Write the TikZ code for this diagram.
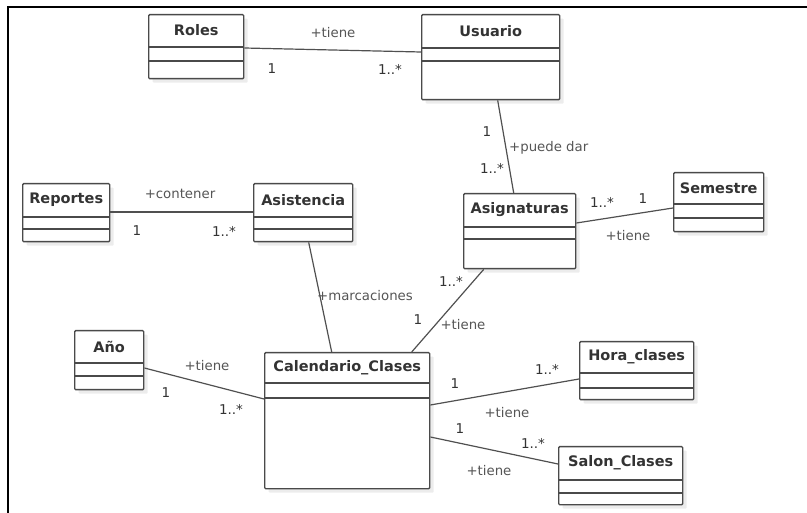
\documentclass[tikz,border=0pt]{standalone}
\usepackage{fontspec}
\setmainfont{DejaVu Sans}
\usetikzlibrary{shadows}
\definecolor{boxline}{HTML}{4A4A4A}
\definecolor{assocline}{HTML}{505050}
\definecolor{titletext}{HTML}{333333}
\definecolor{labeltext}{HTML}{555555}
\tikzset{
	umlclass/.style={draw=boxline, line width=1.4pt, rounded corners=1pt,
		fill=white, anchor=north west, inner sep=0pt,
		drop shadow={fill=gray!30, opacity=0.5, shadow xshift=4pt,
			shadow yshift=-4pt}},
	divider/.style={draw=boxline, line width=1.4pt},
	classname/.style={font=\fontsize{14.5}{16}\selectfont\bfseries,
		text=titletext, inner sep=0pt},
	assoc/.style={draw=assocline, line width=1.2pt},
	rolelabel/.style={font=\fontsize{13.3}{15}\selectfont, text=labeltext,
		inner sep=0pt},
	multlabel/.style={font=\fontsize{13.5}{15}\selectfont, text=titletext,
		inner sep=0pt},
	frameline/.style={draw=black, line width=2pt}
}
\begin{document}
\begin{tikzpicture}[x=1pt, y=-1pt]
	\useasboundingbox (0,0) rectangle (807,513);
	% Rahmen
	\draw[frameline] (807,7.5) -- (7.5,7.5) -- (7.5,513);

	% Klassen: name/titel/x/y/breite/hoehe/trenner1/trenner2
	\foreach \id/\title/\x/\y/\w/\h/\da/\db in {
		roles/Roles/148/14/95/64/33/47,
		usuario/Usuario/421/14/138/85/34/47,
		reportes/Reportes/22/183/87/58/34/46,
		asistencia/Asistencia/253/183/99/58/34/46,
		asignaturas/Asignaturas/463/193/112/75/34/46,
		semestre/Semestre/673/172/90/59/32/46,
		anio/Año/74/330/69/59/33/46,
		calendario/Calendario\_Clases/264/352/165/136/31/46,
		hora/Hora\_clases/579/341/114/58/32/47,
		salon/Salon\_Clases/558/446/124/58/34/47}
	{
		\node[umlclass, minimum width=\w, minimum height=\h] (\id) at (\x,\y) {};
		\pgfmathsetmacro{\ty}{-\da/2}
		\node[classname] (\id-title) at ([yshift=\ty]\id.north) {\title};
		\draw[divider] ([yshift=-\da]\id.north west) -- ([yshift=-\da]\id.north east);
		\draw[divider] ([yshift=-\db]\id.north west) -- ([yshift=-\db]\id.north east);
	}

	% Assoziationen
	\draw[assoc] ([yshift=-34]roles.north east) -- ([yshift=-38]usuario.north west);
	\draw[assoc] ([xshift=7]usuario.south) -- ([xshift=-6]asignaturas.north);
	\draw[assoc] ([yshift=-30]asignaturas.north east) -- ([yshift=-36]semestre.north west);
	\draw[assoc] ([yshift=-29]reportes.north east) -- ([yshift=-29]asistencia.north west);
	\draw[assoc] ([xshift=5.5]asistencia.south) -- ([xshift=-15.5]calendario.north);
	\draw[assoc] ([xshift=-36]asignaturas.south) -- ([xshift=64.5]calendario.north);
	\draw[assoc] ([yshift=-38]anio.north east) -- ([yshift=-47]calendario.north west);
	\draw[assoc] ([yshift=-53]calendario.north east) -- ([yshift=-38]hora.north west);
	\draw[assoc] ([yshift=-85]calendario.north east) -- ([yshift=-18]salon.north west);

	% Beschriftungen
	\node[rolelabel] (ru-name) at (333,33) {+tiene};
	\node[multlabel] (ru-a) at (272,69) {1};
	\node[multlabel] (ru-b) at (390,69) {1..*};

	\node[multlabel] (ua-a) at (487,132) {1};
	\node[rolelabel, anchor=west] (ua-name) at (509,148) {+puede dar};
	\node[multlabel] (ua-b) at (492,168) {1..*};

	\node[multlabel] (as-a) at (602,202) {1..*};
	\node[multlabel] (as-b) at (643,199) {1};
	\node[rolelabel] (as-name) at (628,236) {+tiene};

	\node[rolelabel] (ra-name) at (180,194) {+contener};
	\node[multlabel] (ra-a) at (137,231) {1};
	\node[multlabel] (ra-b) at (224,231) {1..*};

	\node[rolelabel, anchor=west] (ac-name) at (317,296) {+marcaciones};

	\node[multlabel] (gc-a) at (451,281) {1..*};
	\node[multlabel] (gc-b) at (418,320) {1};
	\node[rolelabel] (gc-name) at (463,325) {+tiene};

	\node[rolelabel] (yc-name) at (207,366) {+tiene};
	\node[multlabel] (yc-a) at (166,393) {1};
	\node[multlabel] (yc-b) at (231,409) {1..*};

	\node[multlabel] (ch-a) at (455,384) {1};
	\node[multlabel] (ch-b) at (547,369) {1..*};
	\node[rolelabel] (ch-name) at (507,413) {+tiene};

	\node[multlabel] (cs-a) at (460,429) {1};
	\node[multlabel] (cs-b) at (533,443) {1..*};
	\node[rolelabel] (cs-name) at (489,471) {+tiene};
\end{tikzpicture}
\end{document}
